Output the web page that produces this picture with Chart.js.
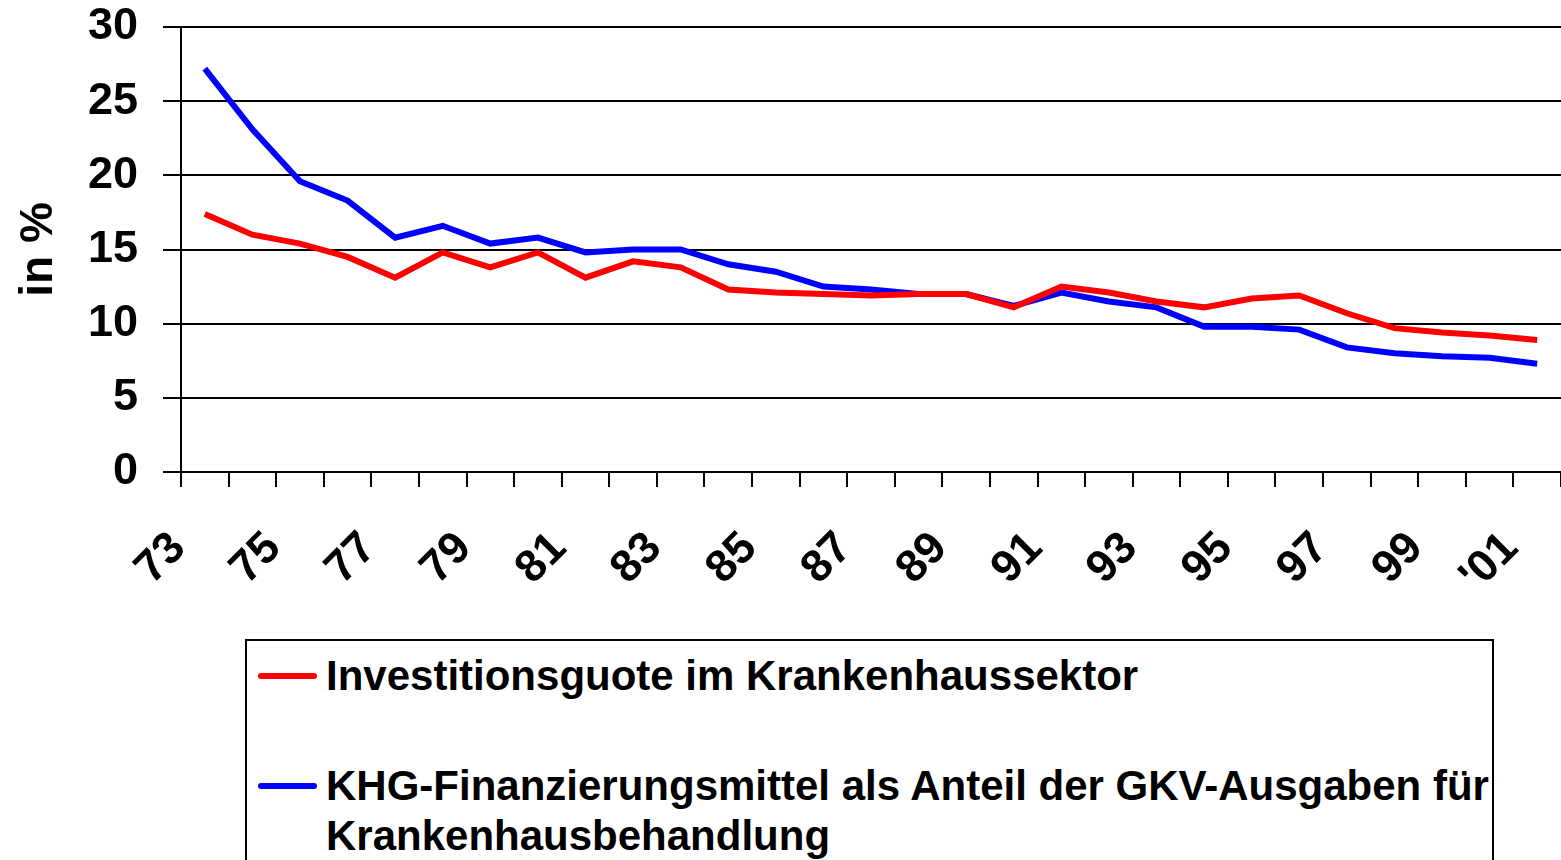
<!DOCTYPE html>
<html>
<head>
<meta charset="utf-8">
<script src="https://cdn.jsdelivr.net/npm/chart.js@4/dist/chart.umd.min.js"></script>
<style>
body{margin:0;background:#fff;font-family:"Liberation Sans",Arial,sans-serif}
#wrap{position:absolute;left:0;top:0;width:1561px;height:630px}
#legende{position:absolute;left:245px;top:639px;width:1245px;height:260px;border:2px solid #000;background:#fff}
.item{position:absolute;left:11px;display:flex;align-items:flex-start}
.linie{width:59px;height:6px;border-radius:3px;margin-top:22px;margin-right:9px;flex:none}
.txt{font-weight:bold;font-size:42px;line-height:50px;color:#000;width:1170px}
</style>
</head>
<body>
<div id="wrap"><canvas id="grafik"></canvas></div>
<div id="legende"></div>
<script>
let jahre=["73","74","75","76","77","78","79","80","81","82","83","84","85","86","87","88","89","90","91","92","93","94","95","96","97","98","99","00","'01"]

let investitionsquote=[17.4,16.0,15.4,14.5,13.1,14.8,13.8,14.8,13.1,14.2,13.8,12.3,12.1,12.0,11.9,12.0,12.0,11.1,12.5,12.1,11.5,11.1,11.7,11.9,10.7,9.7,9.4,9.2,8.9]

let khgAnteil=[27.2,23.1,19.6,18.3,15.8,16.6,15.4,15.8,14.8,15.0,15.0,14.0,13.5,12.5,12.3,12.0,12.0,11.2,12.1,11.5,11.1,9.8,9.8,9.6,8.4,8.0,7.8,7.7,7.3]

let namaSeri=["Investitionsguote im Krankenhaussektor","KHG-Finanzierungsmittel als Anteil der GKV-Ausgaben für Krankenhausbehandlung"]
let warna=["#ff0000","#0000ff"]

let schrift="'Liberation Sans', Arial, sans-serif"

let ctx=document.getElementById("grafik")

let chart=new Chart(ctx,{
type:"line",
data:{
labels:jahre,
datasets:[{
label:namaSeri[0],
data:investitionsquote,
borderColor:warna[0],
borderWidth:6,
pointRadius:0,
tension:0
},{
label:namaSeri[1],
data:khgAnteil,
borderColor:warna[1],
borderWidth:6,
pointRadius:0,
tension:0
}]
},
options:{
responsive:true,
maintainAspectRatio:false,
animation:false,
layout:{padding:{top:27,right:0,left:0,bottom:0}},
plugins:{legend:{display:false},tooltip:{enabled:false}},
scales:{
x:{
offset:true,
grid:{drawOnChartArea:false,drawTicks:true,tickLength:15,color:"#000",lineWidth:2,offset:true},
border:{color:"#000",width:2},
ticks:{
autoSkip:false,
minRotation:45,
maxRotation:45,
padding:35,
labelOffset:-26,
color:"#000",
font:{family:schrift,size:45,weight:"bold"},
callback:function(v,i){return i%2==0?jahre[i]:""}
},
afterFit:function(s){
s.height=158
s.paddingLeft=0
s.paddingRight=0
}
},
y:{
min:0,
max:30,
ticks:{stepSize:5,padding:25,color:"#000",font:{family:schrift,size:45,weight:"bold"}},
grid:{color:"#000",lineWidth:2,tickLength:18},
border:{color:"#000",width:2},
title:{display:true,text:"in %",color:"#000",padding:{top:12,bottom:0},font:{family:schrift,size:46,weight:"bold"}},
afterFit:function(s){
s.width=181
s.paddingTop=0
s.paddingBottom=0
}
}
}
}
})

// legend di luar canvas supaya teks bisa dibungkus
let legende=document.getElementById("legende")
let posisi=[10,120]
chart.data.datasets.forEach((d,i)=>{
let el=document.createElement("div")
el.className="item"
el.style.top=posisi[i]+"px"
el.innerHTML='<span class="linie" style="background:'+d.borderColor+'"></span><span class="txt">'+d.label+'</span>'
legende.appendChild(el)
})
</script>
</body>
</html>
